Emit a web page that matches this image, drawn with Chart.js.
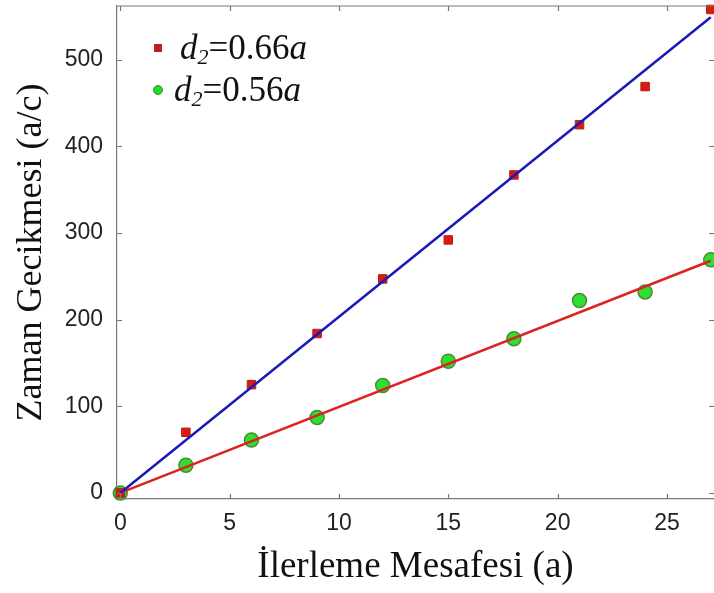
<!DOCTYPE html>
<html>
<head>
<meta charset="utf-8">
<script src="https://cdn.jsdelivr.net/npm/chart.js@4"></script>
<style>
  html, body { margin: 0; padding: 0; background: #fff; }
  #wrap { width: 714px; height: 593px; position: relative; }
</style>
</head>
<body>
<div id="wrap"><canvas id="delayChart"></canvas></div>
<script>
// distance (a) where delay was measured
const distances = [0, 3, 6, 9, 12, 15, 18, 21, 24, 27];
// d2 = 0.66a, red squares
const delay066 = [0, 70, 125, 184, 247, 292, 367, 425, 469, 558];
// d2 = 0.56a, green circles
const delay056 = [0, 32, 61, 87, 124, 152, 178, 222, 232, 269];
// fitted lines, read at the ends
const fitX = [0, 27];
const fit066 = [0, 549];
const fit056 = [0, 268];

const xTicks = [0, 5, 10, 15, 20, 25];
const yTicks = [0, 100, 200, 300, 400, 500];

const toPoints = (xs, ys) => xs.map((x, i) => ({ x: x, y: ys[i] }));

// inward tick marks, top frame line and the math-style legend
const framePlugin = {
  id: "framePlugin",
  afterDraw(chart) {
    const { ctx, chartArea: a, scales } = chart;
    ctx.save();
    ctx.strokeStyle = "#777";
    ctx.lineWidth = 1.2;
    ctx.beginPath();
    ctx.moveTo(a.left, a.top);
    ctx.lineTo(a.right, a.top);
    for (const v of yTicks) {
      const py = Math.round(scales.y.getPixelForValue(v)) + 0.5;
      ctx.moveTo(a.left, py); ctx.lineTo(a.left + 5, py);
      ctx.moveTo(a.right, py); ctx.lineTo(a.right - 5, py);
    }
    for (const v of xTicks) {
      const px = Math.round(scales.x.getPixelForValue(v)) + 0.5;
      ctx.moveTo(px, a.bottom); ctx.lineTo(px, a.bottom - 5);
      ctx.moveTo(px, a.top); ctx.lineTo(px, a.top + 5);
    }
    ctx.stroke();

    // legend
    const entries = [
      { label: "0.66", y: 48, x: 180 },
      { label: "0.56", y: 90, x: 174 }
    ];
    ctx.fillStyle = "#c0201a";
    ctx.fillRect(154, 44, 8, 8);
    ctx.beginPath();
    ctx.arc(158, 90, 4.5, 0, Math.PI * 2);
    ctx.fillStyle = "#22dd22";
    ctx.fill();
    ctx.strokeStyle = "#3c8a3c";
    ctx.lineWidth = 1;
    ctx.stroke();

    ctx.fillStyle = "#111";
    ctx.textBaseline = "alphabetic";
    entries.forEach((e) => {
      let x = e.x;
      const base = e.y + 11;
      ctx.font = "italic 35px 'Liberation Serif'";
      ctx.fillText("d", x, base);
      x += ctx.measureText("d").width;
      ctx.font = "italic 22px 'Liberation Serif'";
      ctx.fillText("2", x, base + 5);
      x += ctx.measureText("2").width;
      ctx.font = "35px 'Liberation Serif'";
      const s = "=" + e.label;
      ctx.fillText(s, x, base);
      x += ctx.measureText(s).width;
      ctx.font = "italic 35px 'Liberation Serif'";
      ctx.fillText("a", x, base);
    });
    ctx.restore();
  }
};

const ctx = document.getElementById("delayChart").getContext("2d");

new Chart(ctx, {
  type: "scatter",
  data: {
    datasets: [
      {
        label: "fit 0.66",
        type: "line",
        data: toPoints(fitX, fit066),
        borderColor: "#1a1ab8",
        borderWidth: 2.5,
        pointRadius: 0,
        fill: false,
        order: 0
      },
      {
        label: "fit 0.56",
        type: "line",
        data: toPoints(fitX, fit056),
        borderColor: "#dd2222",
        borderWidth: 2.5,
        pointRadius: 0,
        fill: false,
        order: 0
      },
      {
        label: "d2=0.66a",
        data: toPoints(distances, delay066),
        pointStyle: "rect",
        pointRadius: 6,
        backgroundColor: "#e3160f",
        borderColor: "#a8261e",
        borderWidth: 1,
        order: 1
      },
      {
        label: "d2=0.56a",
        data: toPoints(distances, delay056),
        pointStyle: "circle",
        pointRadius: 7,
        backgroundColor: "#2ee02e",
        borderColor: "#4b8a3a",
        borderWidth: 1.5,
        order: 1
      }
    ]
  },
  options: {
    responsive: true,
    maintainAspectRatio: false,
    animation: false,
    clip: false,
    layout: { autoPadding: false, padding: { top: 6, right: 0, left: 0, bottom: 0 } },
    plugins: {
      legend: { display: false },
      tooltip: { enabled: false }
    },
    scales: {
      x: {
        type: "linear",
        min: -0.15,
        max: 27.15,
        afterBuildTicks: (axis) => { axis.ticks = xTicks.map((v) => ({ value: v })); },
        afterFit: (axis) => { axis.height = 94; },
        grid: { display: false },
        border: { display: true, color: "#777", width: 1.2 },
        ticks: {
          color: "#222",
          padding: 3,
          font: { family: "'Liberation Sans', Arial", size: 23 }
        },
        title: {
          display: true,
          text: "İlerleme Mesafesi (a)",
          color: "#111",
          padding: { top: 0 },
          font: { family: "'Liberation Serif', 'Times New Roman'", size: 37 }
        }
      },
      y: {
        type: "linear",
        min: -7,
        max: 562,
        afterBuildTicks: (axis) => { axis.ticks = yTicks.map((v) => ({ value: v })); },
        afterFit: (axis) => {
          axis.width = 117;
          axis.paddingTop = 0;
          axis.paddingBottom = 0;
        },
        grid: { display: false },
        border: { display: true, color: "#777", width: 1.2 },
        ticks: {
          color: "#222",
          padding: 6,
          font: { family: "'Liberation Sans', Arial", size: 23 }
        },
        title: {
          display: true,
          text: "Zaman Gecikmesi (a/c)",
          color: "#111",
          padding: { top: 10, bottom: 0 },
          font: { family: "'Liberation Serif', 'Times New Roman'", size: 36 }
        }
      }
    }
  },
  plugins: [framePlugin]
});
</script>
</body>
</html>
